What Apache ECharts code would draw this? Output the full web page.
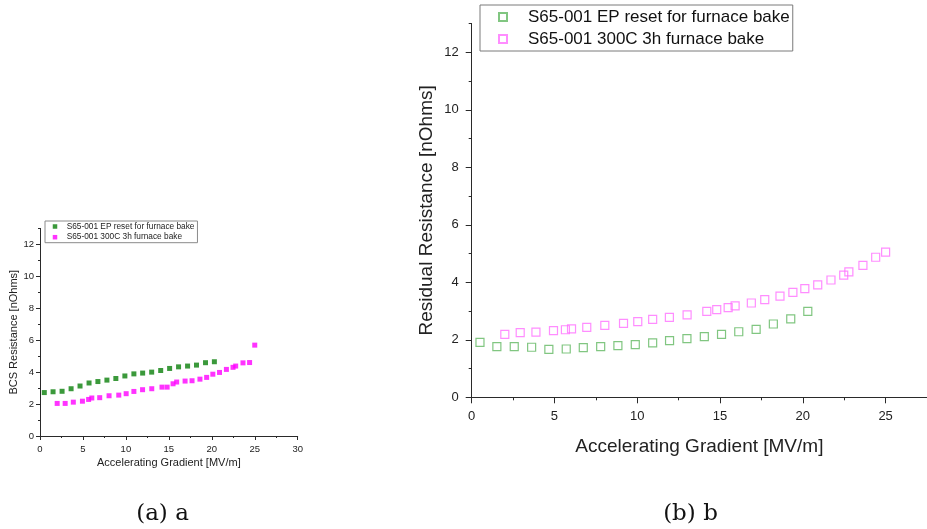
<!DOCTYPE html>
<html>
<head>
<meta charset="utf-8">
<script src="https://cdn.jsdelivr.net/npm/echarts@6/dist/echarts.min.js"></script>
<style>
html,body{margin:0;padding:0;background:#fff;}
#chart{width:927px;height:529px;}
</style>
</head>
<body>
<div id="chart"></div>
<script>
// ---- data ----
var epGradient = [0.5, 1.52, 2.57, 3.62, 4.66, 5.71, 6.74, 7.79, 8.83, 9.88, 10.93, 11.95, 13.0, 14.05, 15.09, 16.13, 17.18, 18.22, 19.27, 20.3];
var bakeGradient = [2.0, 2.93, 3.88, 4.94, 5.66, 6.03, 6.95, 8.04, 9.17, 10.03, 10.93, 11.94, 13.01, 14.2, 14.8, 15.49, 15.91, 16.89, 17.7, 18.62, 19.4, 20.12, 20.9, 21.7, 22.47, 22.78, 23.63, 24.4, 25.0];
var epBCS = [2.72, 2.77, 2.8, 2.96, 3.13, 3.32, 3.41, 3.5, 3.6, 3.76, 3.89, 3.94, 4.0, 4.1, 4.23, 4.33, 4.38, 4.44, 4.59, 4.65];
var bakeBCS = [2.04, 2.04, 2.12, 2.18, 2.29, 2.38, 2.4, 2.52, 2.56, 2.65, 2.79, 2.9, 2.96, 3.06, 3.06, 3.27, 3.38, 3.44, 3.46, 3.56, 3.67, 3.87, 3.98, 4.17, 4.3, 4.38, 4.58, 4.6, 5.69];
var epResidual = [1.91, 1.76, 1.76, 1.74, 1.67, 1.68, 1.73, 1.76, 1.8, 1.83, 1.89, 1.97, 2.04, 2.11, 2.19, 2.28, 2.36, 2.55, 2.73, 2.99];
var bakeResidual = [2.19, 2.25, 2.27, 2.32, 2.35, 2.38, 2.43, 2.5, 2.57, 2.63, 2.71, 2.78, 2.87, 2.99, 3.05, 3.12, 3.18, 3.28, 3.4, 3.52, 3.65, 3.78, 3.91, 4.08, 4.25, 4.36, 4.59, 4.87, 5.05];
var seriesLabels = ['S65-001 EP reset for furnace bake', 'S65-001 300C 3h furnace bake'];
var yMajorTicks = [0, 2, 4, 6, 8, 10, 12];
var yMinorTicks = [1, 3, 5, 7, 9, 11, 13];
var xMajorTicks = [0, 5, 10, 15, 20, 25];
var xMinorTicks = [2.5, 7.5, 12.5, 17.5, 22.5];
var xTitle = 'Accelerating Gradient [MV/m]';
var yTitleA = 'BCS Resistance [nOhms]';
var yTitleB = 'Residual Resistance [nOhms]';
var captions = ['(a) a', '(b) b'];

function zip(xs, ys) { return xs.map(function (x, i) { return [x, ys[i]]; }); }

var FONT = 'Liberation Sans, Arial, sans-serif';
var AX = '#2a2a2a';
var nameMap = { epA: seriesLabels[0], bakeA: seriesLabels[1], epB: seriesLabels[0], bakeB: seriesLabels[1] };

var chart = echarts.init(document.getElementById('chart'), null, { renderer: 'canvas' });
var option = {
  animation: false,
  backgroundColor: '#ffffff',
  grid: [
    { left: 40, top: 228.4, width: 257.7, height: 207.6, containLabel: false },
    { left: 471.7, top: 23.5, width: 464.8, height: 373.8, containLabel: false }
  ],
  xAxis: [
    {
      gridIndex: 0, type: 'value', min: 0, max: 30, interval: 5,
      name: xTitle, nameLocation: 'middle', nameGap: 21.5,
      nameTextStyle: { fontFamily: FONT, fontSize: 11, color: '#222' },
      axisLine: { show: true, onZero: false, lineStyle: { color: AX, width: 1 } },
      axisTick: { show: true, length: 4, lineStyle: { color: AX } },
      minorTick: { show: true, splitNumber: 2, length: 2, lineStyle: { color: AX } },
      axisLabel: { fontFamily: FONT, fontSize: 9.5, color: '#222', margin: 8 },
      splitLine: { show: false }
    },
    {
      gridIndex: 1, type: 'value', min: 0, max: 27.5,
      name: xTitle, nameLocation: 'middle', nameGap: 40,
      nameTextStyle: { fontFamily: FONT, fontSize: 19, color: '#222' },
      axisLine: { show: true, onZero: false, lineStyle: { color: AX, width: 1 } },
      axisTick: { show: true, length: 6, customValues: xMajorTicks, lineStyle: { color: AX } },
      axisLabel: { fontFamily: FONT, fontSize: 13, color: '#222', margin: 13, customValues: xMajorTicks },
      splitLine: { show: false }
    },
    {
      gridIndex: 1, type: 'value', min: 0, max: 27.5, position: 'bottom',
      axisLine: { show: false },
      axisTick: { show: true, length: 3, customValues: xMinorTicks, lineStyle: { color: AX } },
      axisLabel: { show: false },
      splitLine: { show: false }
    }
  ],
  yAxis: [
    {
      gridIndex: 0, type: 'value', min: 0, max: 13, position: 'left',
      name: yTitleA, nameLocation: 'middle', nameGap: 19.5, nameRotate: 90,
      nameTextStyle: { fontFamily: FONT, fontSize: 11, color: '#222' },
      axisLine: { show: true, onZero: false, lineStyle: { color: AX, width: 1 } },
      axisTick: { show: true, length: 4, customValues: yMajorTicks, lineStyle: { color: AX } },
      axisLabel: { fontFamily: FONT, fontSize: 9.5, color: '#222', margin: 6, customValues: yMajorTicks },
      splitLine: { show: false }
    },
    {
      gridIndex: 0, type: 'value', min: 0, max: 13, position: 'left',
      axisLine: { show: false },
      axisTick: { show: true, length: 2, customValues: yMinorTicks, lineStyle: { color: AX } },
      axisLabel: { show: false },
      splitLine: { show: false }
    },
    {
      gridIndex: 1, type: 'value', min: 0, max: 13, position: 'left',
      name: yTitleB, nameLocation: 'middle', nameGap: 35, nameRotate: 90,
      nameTextStyle: { fontFamily: FONT, fontSize: 19, color: '#222' },
      axisLine: { show: true, onZero: false, lineStyle: { color: AX, width: 1 } },
      axisTick: { show: true, length: 6, customValues: yMajorTicks, lineStyle: { color: AX } },
      axisLabel: { fontFamily: FONT, fontSize: 13, color: '#222', margin: 13, customValues: yMajorTicks },
      splitLine: { show: false }
    },
    {
      gridIndex: 1, type: 'value', min: 0, max: 13, position: 'left',
      axisLine: { show: false },
      axisTick: { show: true, length: 3, customValues: yMinorTicks, lineStyle: { color: AX } },
      axisLabel: { show: false },
      splitLine: { show: false }
    }
  ],
  legend: [
    {
      data: ['epA', 'bakeA'], orient: 'vertical', left: 45, top: 221,
      padding: [0.5, 3, 0.5, 7.75], itemGap: 0.7, itemWidth: 4.5, itemHeight: 4.5,
      borderColor: '#8a8a8a', borderWidth: 1, backgroundColor: '#fff',
      formatter: function (n) { return nameMap[n]; },
      textStyle: { fontFamily: FONT, fontSize: 8.3, lineHeight: 10, color: '#222', padding: [0, 0, 0, 4.45] },
      selectedMode: false
    },
    {
      data: ['epB', 'bakeB'], orient: 'vertical', left: 480, top: 5,
      padding: [2, 3, 2, 18], itemGap: 2, itemWidth: 8, itemHeight: 8,
      borderColor: '#7a7a7a', borderWidth: 1, backgroundColor: '#fff',
      formatter: function (n) { return nameMap[n]; },
      textStyle: { fontFamily: FONT, fontSize: 17, lineHeight: 20, color: '#111', padding: [0, 0, 0, 16] },
      selectedMode: false
    }
  ],
  series: [
    {
      name: 'epA', type: 'scatter', xAxisIndex: 0, yAxisIndex: 0,
      symbol: 'rect', symbolSize: 5, itemStyle: { color: '#0a800a' },
      data: zip(epGradient, epBCS)
    },
    {
      name: 'bakeA', type: 'scatter', xAxisIndex: 0, yAxisIndex: 0,
      symbol: 'rect', symbolSize: 5, itemStyle: { color: '#ff00ff' },
      data: zip(bakeGradient, bakeBCS)
    },
    {
      name: 'epB', type: 'scatter', xAxisIndex: 1, yAxisIndex: 2,
      symbol: 'rect', symbolSize: 8,
      itemStyle: { color: 'rgba(255,255,255,0)', borderColor: '#62b862', borderWidth: 1.2 },
      data: zip(epGradient, epResidual)
    },
    {
      name: 'bakeB', type: 'scatter', xAxisIndex: 1, yAxisIndex: 2,
      symbol: 'rect', symbolSize: 8,
      itemStyle: { color: 'rgba(255,255,255,0)', borderColor: '#ff70ff', borderWidth: 1.2 },
      data: zip(bakeGradient, bakeResidual)
    }
  ],
  graphic: [
    { type: 'text', x: 162.5, y: 514, style: { text: captions[0], fontFamily: 'DejaVu Serif', fontSize: 23, fill: '#111', align: 'center', verticalAlign: 'middle' } },
    { type: 'text', x: 690.5, y: 514, style: { text: captions[1], fontFamily: 'DejaVu Serif', fontSize: 23, fill: '#111', align: 'center', verticalAlign: 'middle' } }
  ]
};
chart.setOption(option);
</script>
</body>
</html>
